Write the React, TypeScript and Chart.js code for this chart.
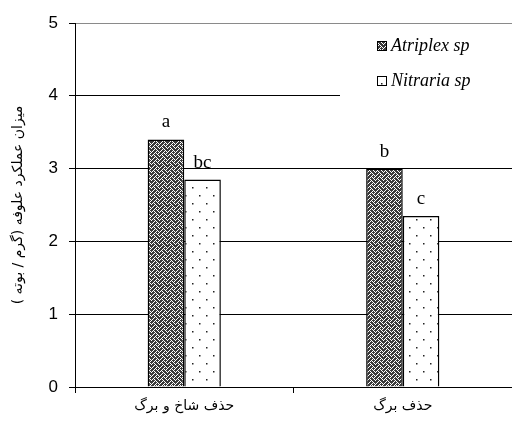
import React, { useEffect, useRef } from "react";
import { Chart, registerables } from "chart.js";

Chart.register(...registerables);

const categories = ["حذف شاخ و برگ", "حذف برگ"];
const seriesNames = ["Atriplex sp", "Nitraria sp"];
const atriplexValues = [3.4, 3.0];
const nitrariaValues = [2.85, 2.35];
const atriplexLetters = ["a", "b"];
const nitrariaLetters = ["bc", "c"];
const yMin = 0;
const yMax = 5;
const yStep = 1;
const yTitle = "میزان عملکرد علوفه (گرم / بوته )";

function makeWeave(ctx: CanvasRenderingContext2D): CanvasPattern | string {
  const bits = [0x11, 0x2a, 0x44, 0xa2, 0x11, 0x28, 0x44, 0x8a];
  const c = document.createElement("canvas");
  c.width = 8;
  c.height = 8;
  const g = c.getContext("2d")!;
  g.fillStyle = "#3a3a3a";
  g.fillRect(0, 0, 8, 8);
  g.fillStyle = "#fff";
  bits.forEach((b, y) => {
    for (let x = 0; x < 8; x++) if (b & (0x80 >> x)) g.fillRect(x, y, 1, 1);
  });
  return ctx.createPattern(c, "repeat") || "#666";
}

function makeDots(ctx: CanvasRenderingContext2D): CanvasPattern | string {
  const c = document.createElement("canvas");
  c.width = 14;
  c.height = 16;
  const g = c.getContext("2d")!;
  g.fillStyle = "#fff";
  g.fillRect(0, 0, 14, 16);
  g.fillStyle = "#222";
  g.fillRect(3, 3, 1.5, 1.5);
  g.fillRect(10, 11, 1.5, 1.5);
  return ctx.createPattern(c, "repeat") || "#fff";
}

export default function App() {
  const ref = useRef<HTMLCanvasElement | null>(null);

  useEffect(() => {
    document.body.style.margin = "0";
    const canvas = ref.current!;
    const ctx = canvas.getContext("2d")!;
    const weave = makeWeave(ctx);
    const dots = makeDots(ctx);
    const letters = [atriplexLetters, nitrariaLetters];
    const fills = [weave, dots];

    const letterPlugin = {
      id: "letters",
      afterDatasetsDraw(chart: any) {
        const c = chart.ctx;
        c.save();
        c.fillStyle = "#000";
        c.font = "19px 'Liberation Serif', 'Times New Roman', serif";
        c.textAlign = "center";
        c.textBaseline = "alphabetic";
        chart.data.datasets.forEach((_: any, di: number) => {
          const meta = chart.getDatasetMeta(di);
          meta.data.forEach((el: any, i: number) => {
            c.fillText(letters[di][i], el.x, el.y - 12);
          });
        });
        c.restore();
      },
    };

    const legendPlugin = {
      id: "customLegend",
      afterDraw(chart: any) {
        const c = chart.ctx;
        const x0 = chart.width - 172;
        c.save();
        c.fillStyle = "#fff";
        c.fillRect(x0, chart.chartArea.top + 1, 172, 77);
        const rows = [45, 80];
        seriesNames.forEach((name, i) => {
          const y = rows[i];
          c.fillStyle = fills[i];
          c.fillRect(x0 + 37, y - 4, 10, 10);
          c.strokeStyle = "#000";
          c.lineWidth = 1;
          c.strokeRect(x0 + 37.5, y - 3.5, 9, 9);
          c.fillStyle = "#000";
          c.font = "italic 18px 'Liberation Serif', 'Times New Roman', serif";
          c.textAlign = "left";
          c.textBaseline = "middle";
          c.fillText(name, x0 + 51, y + 1);
        });
        c.restore();
      },
    };

    const chart = new Chart(canvas, {
      type: "bar",
      data: {
        labels: categories,
        datasets: [
          {
            label: seriesNames[0],
            data: atriplexValues,
            backgroundColor: weave as any,
            borderColor: "#000",
            borderWidth: 1.5,
            categoryPercentage: 0.335,
            barPercentage: 1,
          },
          {
            label: seriesNames[1],
            data: nitrariaValues,
            backgroundColor: dots as any,
            borderColor: "#000",
            borderWidth: 1.5,
            categoryPercentage: 0.335,
            barPercentage: 1,
          },
        ],
      },
      options: {
        responsive: false,
        animation: false,
        devicePixelRatio: 1,
        layout: { padding: { top: 23, right: 0, left: 0, bottom: 0 } },
        plugins: {
          legend: { display: false },
          tooltip: { enabled: false },
        },
        scales: {
          x: {
            afterFit: (s: any) => {
              s.height = 46;
            },
            grid: {
              display: true,
              drawOnChartArea: false,
              drawTicks: true,
              tickLength: 6,
              offset: true,
              color: "#000",
            },
            border: { display: true, color: "#000", width: 1 },
            ticks: {
              color: "#000",
              padding: 5,
              font: { family: "'DejaVu Sans', sans-serif", size: 14 },
            },
          },
          y: {
            min: yMin,
            max: yMax,
            afterFit: (s: any) => {
              s.width = 75;
            },
            ticks: {
              stepSize: yStep,
              color: "#000",
              padding: 11,
              font: { family: "'Liberation Sans', Arial, sans-serif", size: 17 },
            },
            grid: {
              color: (c: any) => (c.tick && c.tick.value === yMax ? "#8a8a8a" : "#000"),
              tickColor: "#000",
              tickLength: 6,
              lineWidth: 1,
            },
            border: { display: true, color: "#000", width: 1 },
            title: {
              display: true,
              text: yTitle,
              color: "#000",
              padding: { top: 10, bottom: 0 },
              font: { family: "'DejaVu Sans', sans-serif", size: 14 },
            },
          },
        },
      },
      plugins: [letterPlugin, legendPlugin],
    });
    return () => chart.destroy();
  }, []);

  return (
    <div style={{ position: "absolute", left: 0, top: 0, width: 512, height: 433 }}>
      <canvas ref={ref} width={512} height={433} />
    </div>
  );
}
